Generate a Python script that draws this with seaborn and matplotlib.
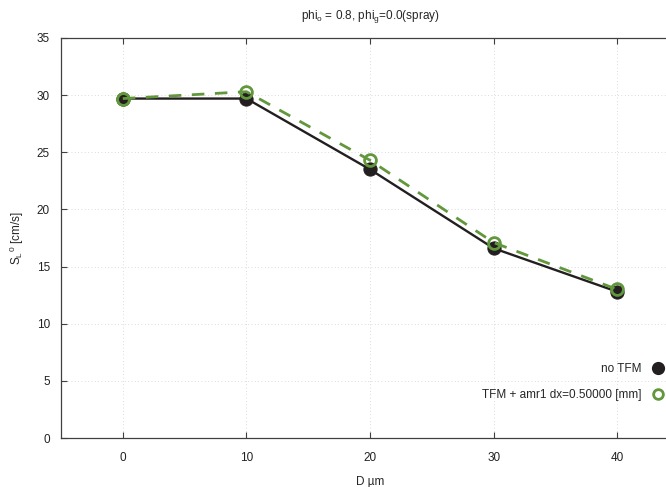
import numpy as np
import pandas as pd
import matplotlib
matplotlib.use("Agg")
import matplotlib.pyplot as plt
from matplotlib.lines import Line2D
import seaborn as sns

# data
diameter = [0, 10, 20, 30, 40]
sl_no_tfm = [29.7, 29.7, 23.5, 16.6, 12.8]
sl_tfm = [29.7, 30.3, 24.3, 17.1, 13.0]

label_no_tfm = "no TFM"
label_tfm = "TFM + amr1 dx=0.50000 [mm]"

sns.set_style("white")
plt.rcParams['font.family'] = ['Liberation Sans', 'DejaVu Sans']
plt.rcParams['mathtext.fontset'] = 'custom'
plt.rcParams['mathtext.rm'] = 'Liberation Sans'
plt.rcParams['mathtext.it'] = 'Liberation Sans'

black = "#231f20"
green = "#62973c"

df = pd.DataFrame({"D": diameter, "no": sl_no_tfm, "tfm": sl_tfm})

fig = plt.figure(figsize=(6.66, 4.87), dpi=100)
ax = fig.add_axes([0.0916, 0.1006, 0.928, 0.8214])

sns.lineplot(data=df, x="D", y="no", ax=ax, color=black, lw=1.7,
             marker="o", markersize=9.5, markerfacecolor=black,
             markeredgecolor=black, zorder=3)
sns.lineplot(data=df, x="D", y="tfm", ax=ax, color=green, lw=2.0,
             dashes=False, marker="o", markersize=8.5, markerfacecolor="none",
             markeredgecolor=green, markeredgewidth=2.0, zorder=4)
ax.lines[-1].set_dashes([4.5, 3.8])

ax.set_xlim(-5, 45)
ax.set_ylim(0, 35)
ax.set_xticks([0, 10, 20, 30, 40])
ax.set_yticks(np.arange(0, 36, 5))
ax.grid(True, linestyle=(0, (1, 3)), color="#d0d0d0", lw=0.6)
ax.tick_params(direction="in", length=4, width=0.8, color="#404040",
               labelsize=8.5, top=True, bottom=True, left=True, right=False,
               labelcolor="#222222")
ax.tick_params(axis="x", pad=10)
ax.tick_params(axis="y", pad=8)
for s in ax.spines.values():
    s.set_color("#404040")
    s.set_linewidth(0.9)

ax.set_xlabel("D µm", fontsize=8.5, labelpad=9)
ax.set_ylabel(r"S$_L$$^{0}$ [cm/s]", fontsize=8.5, labelpad=8)
ax.set_title(r"phi$_o$ = 0.8, phi$_g$=0.0(spray)", fontsize=8.5, pad=14)

handles = [
    Line2D([], [], ls="none", marker="o", markersize=8.5, color=black),
    Line2D([], [], ls="none", marker="o", markersize=7, markerfacecolor="none",
           markeredgecolor=green, markeredgewidth=2.0),
]
ax.legend(handles, [label_no_tfm, label_tfm], loc="lower right",
          bbox_to_anchor=(0.995, 0.065), frameon=False, markerfirst=False,
          fontsize=8.5, handlelength=1.2, handletextpad=0.8, labelspacing=1.2)

fig.savefig("out.png", dpi=100)
